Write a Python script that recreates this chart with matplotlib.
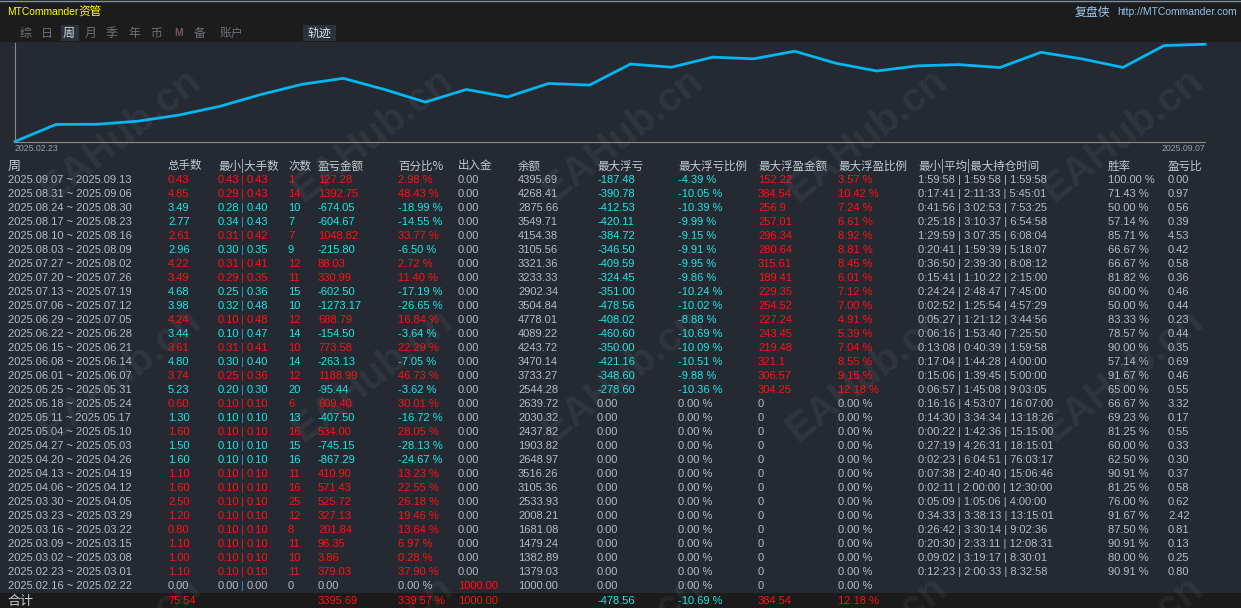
import numpy as np
import matplotlib
matplotlib.use("Agg")
import matplotlib.pyplot as plt
from matplotlib.patches import Rectangle

plt.rcParams['font.family'] = ['Liberation Sans', 'Noto Sans CJK SC']

# ---- table data (newest week first, as shown) ----
weeks = ["2025.09.07 ~ 2025.09.13", "2025.08.31 ~ 2025.09.06", "2025.08.24 ~ 2025.08.30",
         "2025.08.17 ~ 2025.08.23", "2025.08.10 ~ 2025.08.16", "2025.08.03 ~ 2025.08.09",
         "2025.07.27 ~ 2025.08.02", "2025.07.20 ~ 2025.07.26", "2025.07.13 ~ 2025.07.19",
         "2025.07.06 ~ 2025.07.12", "2025.06.29 ~ 2025.07.05", "2025.06.22 ~ 2025.06.28",
         "2025.06.15 ~ 2025.06.21", "2025.06.08 ~ 2025.06.14", "2025.06.01 ~ 2025.06.07",
         "2025.05.25 ~ 2025.05.31", "2025.05.18 ~ 2025.05.24", "2025.05.11 ~ 2025.05.17",
         "2025.05.04 ~ 2025.05.10", "2025.04.27 ~ 2025.05.03", "2025.04.20 ~ 2025.04.26",
         "2025.04.13 ~ 2025.04.19", "2025.04.06 ~ 2025.04.12", "2025.03.30 ~ 2025.04.05",
         "2025.03.23 ~ 2025.03.29", "2025.03.16 ~ 2025.03.22", "2025.03.09 ~ 2025.03.15",
         "2025.03.02 ~ 2025.03.08", "2025.02.23 ~ 2025.03.01", "2025.02.16 ~ 2025.02.22"]
lots = [0.43, 4.85, 3.49, 2.77, 2.61, 2.96, 4.22, 3.49, 4.68, 3.98, 4.24, 3.44, 3.61, 4.80, 3.74,
        5.23, 0.60, 1.30, 1.60, 1.50, 1.60, 1.10, 1.60, 2.50, 1.20, 0.80, 1.10, 1.00, 1.10, 0.00]
lot_min = [0.43, 0.29, 0.28, 0.34, 0.31, 0.30, 0.31, 0.29, 0.25, 0.32, 0.10, 0.10, 0.31, 0.30, 0.25,
           0.20, 0.10, 0.10, 0.10, 0.10, 0.10, 0.10, 0.10, 0.10, 0.10, 0.10, 0.10, 0.10, 0.10, 0.00]
lot_max = [0.43, 0.43, 0.40, 0.43, 0.42, 0.35, 0.41, 0.35, 0.36, 0.48, 0.48, 0.47, 0.41, 0.40, 0.36,
           0.30, 0.10, 0.10, 0.10, 0.10, 0.10, 0.10, 0.10, 0.10, 0.10, 0.10, 0.10, 0.10, 0.10, 0.00]
trades = [1, 14, 10, 7, 7, 9, 12, 11, 15, 10, 12, 14, 10, 14, 12,
          20, 6, 13, 16, 15, 16, 11, 16, 25, 12, 8, 11, 10, 11, 0]
pnl = [127.28, 1392.75, -674.05, -604.67, 1048.82, -215.80, 88.03, 330.99, -602.50, -1273.17,
       688.79, -154.50, 773.58, -263.13, 1188.99, -95.44, 609.40, -407.50, 534.00, -745.15,
       -867.29, 410.90, 571.43, 525.72, 327.13, 201.84, 96.35, 3.86, 379.03, 0.00]
pnl_pct = [2.98, 48.43, -18.99, -14.55, 33.77, -6.50, 2.72, 11.40, -17.19, -26.65,
           16.84, -3.64, 22.29, -7.05, 46.73, -3.62, 30.01, -16.72, 28.05, -28.13,
           -24.67, 13.23, 22.55, 26.18, 19.46, 13.64, 6.97, 0.28, 37.90, 0.00]
cash_flow = [0.00] * 29 + [1000.00]
balance = [4395.69, 4268.41, 2875.66, 3549.71, 4154.38, 3105.56, 3321.36, 3233.33, 2902.34, 3504.84,
           4778.01, 4089.22, 4243.72, 3470.14, 3733.27, 2544.28, 2639.72, 2030.32, 2437.82, 1903.82,
           2648.97, 3516.26, 3105.36, 2533.93, 2008.21, 1681.08, 1479.24, 1382.89, 1379.03, 1000.00]
float_loss = [-187.48, -390.78, -412.53, -420.11, -384.72, -346.50, -409.59, -324.45, -351.00,
              -478.56, -408.02, -460.60, -350.00, -421.16, -348.60, -278.60] + [0.00] * 14
float_loss_pct = [-4.39, -10.05, -10.39, -9.99, -9.15, -9.91, -9.95, -9.86, -10.24,
                  -10.02, -8.88, -10.69, -10.09, -10.51, -9.88, -10.36] + [0.00] * 14
float_gain = ["152.22", "384.54", "256.9", "257.01", "296.34", "280.64", "315.61", "189.41",
              "229.35", "254.52", "227.24", "243.45", "219.48", "321.1", "306.57", "304.25"] + ["0"] * 14
float_gain_pct = [3.57, 10.42, 7.24, 6.61, 8.92, 8.81, 8.45, 6.01, 7.12,
                  7.00, 4.91, 5.39, 7.04, 8.55, 9.15, 12.18] + [0.00] * 14
hold_time = ["1:59:58 | 1:59:58 | 1:59:58", "0:17:41 | 2:11:33 | 5:45:01", "0:41:56 | 3:02:53 | 7:53:25",
             "0:25:18 | 3:10:37 | 6:54:58", "1:29:59 | 3:07:35 | 6:08:04", "0:20:41 | 1:59:39 | 5:18:07",
             "0:36:50 | 2:39:30 | 8:08:12", "0:15:41 | 1:10:22 | 2:15:00", "0:24:24 | 2:48:47 | 7:45:00",
             "0:02:52 | 1:25:54 | 4:57:29", "0:05:27 | 1:21:12 | 3:44:56", "0:06:16 | 1:53:40 | 7:25:50",
             "0:13:08 | 0:40:39 | 1:59:58", "0:17:04 | 1:44:28 | 4:00:00", "0:15:06 | 1:39:45 | 5:00:00",
             "0:06:57 | 1:45:08 | 9:03:05", "0:16:16 | 4:53:07 | 16:07:00", "0:14:30 | 3:34:34 | 13:18:26",
             "0:00:22 | 1:42:36 | 15:15:00", "0:27:19 | 4:26:31 | 18:15:01", "0:02:23 | 6:04:51 | 76:03:17",
             "0:07:38 | 2:40:40 | 15:06:46", "0:02:11 | 2:00:00 | 12:30:00", "0:05:09 | 1:05:06 | 4:00:00",
             "0:34:33 | 3:38:13 | 13:15:01", "0:26:42 | 3:30:14 | 9:02:36", "0:20:30 | 2:33:11 | 12:08:31",
             "0:09:02 | 3:19:17 | 8:30:01", "0:12:23 | 2:00:33 | 8:32:58", ""]
win_rate = ["100.00 %", "71.43 %", "50.00 %", "57.14 %", "85.71 %", "66.67 %", "66.67 %", "81.82 %",
            "60.00 %", "50.00 %", "83.33 %", "78.57 %", "90.00 %", "57.14 %", "91.67 %", "65.00 %",
            "66.67 %", "69.23 %", "81.25 %", "60.00 %", "62.50 %", "90.91 %", "81.25 %", "76.00 %",
            "91.67 %", "87.50 %", "90.91 %", "80.00 %", "90.91 %", ""]
pl_ratio = ["0.00", "0.97", "0.56", "0.39", "4.53", "0.42", "0.58", "0.36", "0.46", "0.44",
            "0.23", "0.44", "0.35", "0.69", "0.46", "0.55", "3.32", "0.17", "0.55", "0.33",
            "0.30", "0.37", "0.58", "0.62", "2.42", "0.81", "0.13", "0.25", "0.80", ""]

total_lots = 75.54
total_pnl = 3395.69
total_pct = 339.57
total_flow = 1000.00
total_float_loss = -478.56
total_float_loss_pct = -10.69
total_float_gain = 384.54
total_float_gain_pct = 12.18

headers = ["周", "总手数", "最小|大手数", "次数", "盈亏金额", "百分比%", "出入金", "余额", "最大浮亏",
           "最大浮亏比例", "最大浮盈金额", "最大浮盈比例", "最小|平均|最大持仓时间", "胜率", "盈亏比"]
tabs = ["综", "日", "周", "月", "季", "年", "币", "M", "备", "账户"]

chart_start = "2025.02.23"
chart_end = "2025.09.07"

# ---- colours ----
BG = '#252a32'
TOPBAR = '#1c1c1c'
GREY = '#b4bcc6'
HEAD = '#c6cbd2'
RED = '#ff1212'
CYAN = '#1ce6e6'
SEP = '#1ba0d8'
LINE = '#00b7f2'

W, H = 1241, 608
fig = plt.figure(figsize=(W / 100, H / 100), dpi=100, facecolor=BG)
renderer = fig.canvas.get_renderer()

ax = fig.add_axes([0, 0, 1, 1], zorder=0)
ax.set_xlim(0, W)
ax.set_ylim(H, 0)
ax.axis('off')

ax.add_patch(Rectangle((0, 0), W, 42, color=TOPBAR, lw=0))
ax.add_patch(Rectangle((0, 593), W, 15, color='#1b1b1b', lw=0))
ax.plot([0, W], [0.5, 0.5], color='#7f8fa3', lw=1)

# watermarks
for wy in [135, 375, 642]:
    for wx in [120, 372, 622, 866, 1122]:
        ax.text(wx, wy, "EAHub.cn", fontsize=29, fontweight='bold', color='white', alpha=0.055,
                rotation=38, ha='center', va='center', rotation_mode='anchor')

# header bar: latin and CJK parts sized separately, CJK placed next to the measured latin text
t1 = ax.text(7, 12, "MTCommander", color='#ffff00', fontsize=7.4, va='center', ha='left')
x_end = t1.get_window_extent(renderer).x1
ax.text(x_end, 12, "资管", color='#ffff00', fontsize=8.4, va='center', ha='left',
        family=['Noto Sans CJK SC'])
t2 = ax.text(1237, 12, "http://MTCommander.com", color='#8fc2ec', fontsize=7.5, va='center', ha='right')
x_start = t2.get_window_extent(renderer).x0
ax.text(x_start - 7, 12, "复盘侠", color='#9dcaf2', fontsize=8.6, va='center', ha='right',
        family=['Noto Sans CJK SC'])

tab_x = [25, 46.5, 68.5, 90.5, 112, 134, 156, 179, 200, 231.5]
ax.add_patch(Rectangle((60.5, 25), 18.5, 16, color='#2b323c', lw=0))
ax.add_patch(Rectangle((302.5, 25), 33, 16, color='#2b323c', lw=0))
for tx, t in zip(tab_x, tabs):
    if t == "M":
        ax.text(tx, 33.5, t, color='#74565b', fontsize=7.5, fontweight='bold', ha='center', va='center')
        continue
    col = '#d9dde2' if t == "周" else '#6c7179'
    ax.text(tx, 33.5, t, color=col, fontsize=8.6, ha='center', va='center', family=['Noto Sans CJK SC'])
ax.text(319.5, 33.5, "轨迹", color='#d9dde2', fontsize=8.6, ha='center', va='center',
        family=['Noto Sans CJK SC'])

# ---- trajectory chart: running sum of the weekly percentages, oldest first ----
traj = np.cumsum(pnl_pct[::-1])
cax = fig.add_axes([15 / W, 1 - 141.5 / H, 1190 / W, 98.5 / H], zorder=1)
cax.set_facecolor('none')
cax.plot(np.arange(len(traj)), traj, color=LINE, lw=2.0, solid_joinstyle='round', clip_on=False)
cax.set_xlim(0, len(traj) - 1)
cax.set_ylim(0, traj.max() * 1.013)
for s in ['top', 'right']:
    cax.spines[s].set_visible(False)
for s in ['left', 'bottom']:
    cax.spines[s].set_color('#8a8a8a')
    cax.spines[s].set_linewidth(0.8)
cax.set_yticks([])
cax.set_xticks([0, len(traj) - 1], [chart_start, chart_end])
cax.tick_params(axis='x', length=0, pad=2, labelsize=6.3, labelcolor='#9a9fa6')
tl = cax.get_xticklabels()
tl[0].set_ha('left')
tl[0].set_x(-0.1)
tl[1].set_ha('right')

# ---- table ----
col_x = [8, 168, 218, 288, 318, 398, 458, 518, 597, 678, 758, 838, 918, 1108, 1168]
FS = 8.0
HFS = 8.3

for x, h in zip(col_x, headers):
    ax.text(x, 166, h, color=HEAD, fontsize=9.4 if h == "周" else HFS, ha='left', va='center',
            family=['Noto Sans CJK SC'])


def put(x, y, s, c):
    ax.text(x, y, s, color=c, fontsize=FS, ha='left', va='center')


for i in range(len(weeks)):
    y = 180 + 14 * i
    if pnl[i] > 0:
        pc = RED
    elif pnl[i] < 0:
        pc = CYAN
    else:
        pc = GREY
    put(col_x[0], y, weeks[i], GREY)
    put(col_x[1], y, f"{lots[i]:.2f}", pc)
    put(col_x[2], y, f"{lot_min[i]:.2f}", pc)
    put(241.5, y, "|", RED if pc == RED else SEP)
    put(247, y, f"{lot_max[i]:.2f}", pc)
    put(col_x[3], y, f"{trades[i]}", pc)
    put(col_x[4], y, f"{pnl[i]:.2f}", pc)
    put(col_x[5], y, f"{pnl_pct[i]:.2f} %", pc)
    put(col_x[6], y, f"{cash_flow[i]:.2f}", RED if cash_flow[i] else GREY)
    put(col_x[7], y, f"{balance[i]:.2f}", GREY)
    lc = CYAN if float_loss[i] else GREY
    put(col_x[8], y, f"{float_loss[i]:.2f}", lc)
    put(col_x[9], y, f"{float_loss_pct[i]:.2f} %", lc)
    gc = RED if float_gain[i] != "0" else GREY
    put(col_x[10], y, float_gain[i], gc)
    put(col_x[11], y, f"{float_gain_pct[i]:.2f} %", gc)
    put(col_x[12], y, hold_time[i], GREY)
    put(col_x[13], y, win_rate[i], GREY)
    put(col_x[14], y, pl_ratio[i], GREY)

# total row
yt = 601
ax.text(8, yt, "合计", color=HEAD, fontsize=9.4, ha='left', va='center', family=['Noto Sans CJK SC'])
put(col_x[1], yt, f"{total_lots:.2f}", RED)
put(col_x[4], yt, f"{total_pnl:.2f}", RED)
put(col_x[5], yt, f"{total_pct:.2f} %", RED)
put(col_x[6], yt, f"{total_flow:.2f}", RED)
put(col_x[8], yt, f"{total_float_loss:.2f}", CYAN)
put(col_x[9], yt, f"{total_float_loss_pct:.2f} %", CYAN)
put(col_x[10], yt, f"{total_float_gain:.2f}", RED)
put(col_x[11], yt, f"{total_float_gain_pct:.2f} %", RED)

fig.savefig("out.png", dpi=100, facecolor=BG)
